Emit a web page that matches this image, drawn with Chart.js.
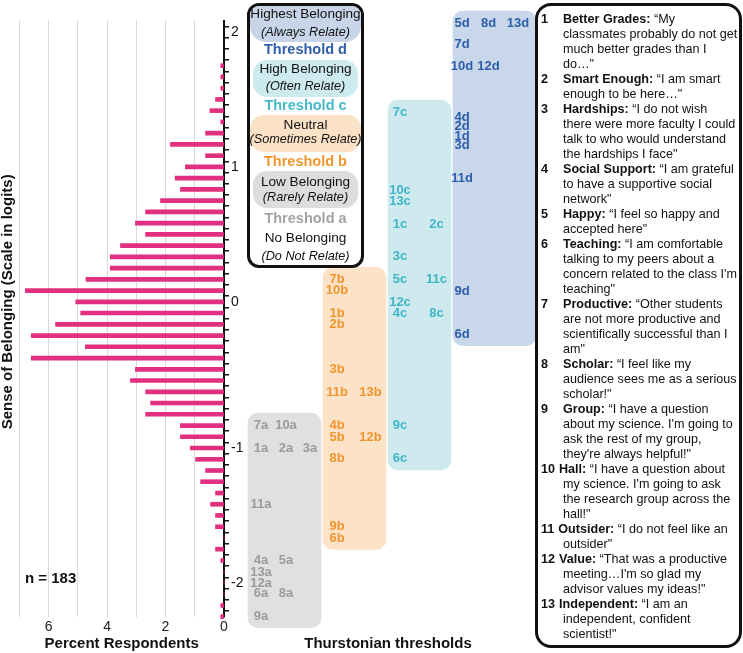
<!DOCTYPE html>
<html>
<head>
<meta charset="utf-8">
<title>Sense of Belonging – Wright map</title>
<script src="https://cdn.jsdelivr.net/npm/chart.js@4.4.1/dist/chart.umd.min.js"></script>
<style>
  html, body { margin:0; padding:0; background:#fff; }
  body { position:relative; width:743px; height:653px; overflow:hidden; font-family:"Liberation Sans", Arial, Helvetica, sans-serif; color:#111; }
  canvas { position:absolute; top:0; }
  #hist { left:0; }
  #thr { left:240px; }
  #nLabel { position:absolute; left:25px; top:569px; font-weight:bold; font-size:15px; line-height:18px; white-space:nowrap; }
  #legend { position:absolute; left:247px; top:3px; width:117px; height:265px; box-sizing:border-box; border:3px solid #111; border-radius:12px; background:#fff; z-index:5; }
  #legend .pill { position:absolute; border-radius:14px; }
  #legend .ln { position:absolute; left:-20px; width:151px; text-align:center; white-space:nowrap; font-size:13.6px; line-height:16px; color:#111; }
  #legend .itl { font-style:italic; font-size:12.7px; }
  #legend .th { font-weight:bold; font-size:14.5px; }
  #items { position:absolute; left:535px; top:3px; width:207px; height:645px; box-sizing:border-box; border:3px solid #111; border-radius:16px; background:#fff; padding:5.5px 0 0 3px; font-size:12.6px; z-index:5; color:#111; }
  #items .l { height:15px; line-height:15px; white-space:nowrap; padding-left:22px; overflow:visible; }
  #items .l.first { padding-left:0; }
  #items .n { display:inline-block; width:22px; font-weight:bold; }
  #items .n2 { display:inline-block; font-weight:bold; margin-right:4px; }
</style>
</head>
<body>
<canvas id="hist" width="248" height="653"></canvas>
<canvas id="thr" width="296" height="653"></canvas>
<div id="nLabel">n = 183</div>

<div id="legend">
  <div class="pill" style="top:0;left:0;right:0;height:36px;background:#c8d5e9;border-radius:9px 9px 16px 16px;"></div>
  <div class="pill" style="top:54px;left:3px;right:3px;height:37px;background:#cdeaef;"></div>
  <div class="pill" style="top:109px;left:0;right:0;height:37px;background:#fbe1c5;"></div>
  <div class="pill" style="top:165px;left:3px;right:3px;height:37px;background:#dddddd;"></div>
  <div class="ln" style="top:0px">Highest Belonging</div>
  <div class="ln itl" style="top:17.7px">(Always Relate)</div>
  <div class="ln th" style="top:35.3px;color:#2e5ea8">Threshold d</div>
  <div class="ln" style="top:55px">High Belonging</div>
  <div class="ln itl" style="top:72px">(Often Relate)</div>
  <div class="ln th" style="top:91px;color:#46b8c8">Threshold c</div>
  <div class="ln" style="top:111px">Neutral</div>
  <div class="ln itl" style="top:125.3px">(Sometimes Relate)</div>
  <div class="ln th" style="top:146.7px;color:#f0962e">Threshold b</div>
  <div class="ln" style="top:167.7px">Low Belonging</div>
  <div class="ln itl" style="top:183.3px">(Rarely Relate)</div>
  <div class="ln th" style="top:204.3px;color:#a3a3a3">Threshold a</div>
  <div class="ln" style="top:223.7px">No Belonging</div>
  <div class="ln itl" style="top:241.7px">(Do Not Relate)</div>
</div>

<div id="items"></div>

<script>
// ---------------- DATA ----------------
// Person measure bins (logits) and percent of respondents per bin
const binLogits = [1.750,1.667,1.583,1.500,1.417,1.333,1.250,1.167,1.083,1.000,
                   0.917,0.833,0.750,0.667,0.583,0.500,0.417,0.333,0.250,0.167,
                   0.083,0.000,-0.083,-0.167,-0.250,-0.333,-0.417,-0.500,-0.583,-0.667,
                   -0.750,-0.833,-0.917,-1.000,-1.083,-1.167,-1.250,-1.333,-1.417,-1.500,
                   -1.583,-1.667,-1.750,-1.833,-1.917,-2.000,-2.083,-2.167,-2.250,-2.333];
const pctRespondents = [0.11,0.11,0.11,0.29,0.48,0.11,0.63,1.83,0.63,1.32,
                        1.67,1.49,2.17,2.68,3.03,2.68,3.54,3.89,3.89,4.72,
                        6.79,5.07,4.90,5.76,6.59,4.74,6.59,3.03,3.20,2.68,
                        2.51,2.68,1.49,1.49,1.15,0.97,0.63,0.80,0.29,0.46,
                        0.29,0.29,0,0.29,0.11,0,0,0,0.11,0.11];

// x tick labels for 0..7 %
const xTickLabels = ['0','','2','','4','','6',''];
// y tick labels and where they sit on the logit scale
const yTickLabels = ['2','1','0','-1','-2'];
const yTickLabelAt = [2, 1, 0, -1.083, -2.083];

// Item numbers and Thurstonian thresholds (logits)
const items = [1,2,3,4,5,6,7,8,9,10,11,12,13];
const thresholdA = [-1.08,-1.08,-1.08,-1.91,-1.91,-2.16,-0.91,-2.16,-2.33,-0.91,-1.50,-2.08,-2.00];
const thresholdB = [-0.08,-0.16,-0.50,-0.91,-1.00,-1.75, 0.17,-1.16,-1.66, 0.09,-0.67,-1.00,-0.67];
const thresholdC = [ 0.58, 0.58, 0.34,-0.08, 0.17,-1.16, 1.41,-0.08,-0.91, 0.83, 0.17, 0.00, 0.75];
const thresholdD = [ 1.23, 1.30, 1.16, 1.37, 2.07,-0.24, 1.91, 2.07, 0.08, 1.75, 0.92, 1.75, 2.07];

// Item names and wording (as wrapped in the figure)
const itemNames = ['Better Grades:','Smart Enough:','Hardships:','Social Support:','Happy:','Teaching:',
                   'Productive:','Scholar:','Group:','Hall:','Outsider:','Value:','Independent:'];
const itemLines = [
  ['“My','classmates probably do not get','much better grades than I','do…"'],
  ['“I am smart','enough to be here…"'],
  ['“I do not wish','there were more faculty I could','talk to who would understand','the hardships I face"'],
  ['“I am grateful','to have a supportive social','network"'],
  ['“I feel so happy and','accepted here"'],
  ['“I am comfortable','talking to my peers about a','concern related to the class I\'m','teaching"'],
  ['“Other students','are not more productive and','scientifically successful than I','am"'],
  ['“I feel like my','audience sees me as a serious','scholar!"'],
  ['“I have a question','about my science. I\'m going to','ask the rest of my group,','they\'re always helpful!"'],
  ['“I have a question about','my science. I\'m going to ask','the research group across the','hall!"'],
  ['“I do not feel like an','outsider"'],
  ['“That was a productive','meeting…I\'m so glad my','advisor values my ideas!"'],
  ['“I am an','independent, confident','scientist!"']
];

const yAxisTitle = 'Sense of Belonging (Scale in logits)';
const xAxisTitleLeft = 'Percent Respondents';
const xAxisTitleRight = 'Thurstonian thresholds';

// ---------------- ITEM LIST (text) ----------------
(function(){
  const box = document.getElementById('items');
  items.forEach((it, i) => {
    const lines = itemLines[i];
    lines.forEach((txt, li) => {
      const d = document.createElement('div');
      d.className = 'l' + (li === 0 ? ' first' : '');
      if (li === 0) {
        const n = document.createElement('span');
        n.className = it < 10 ? 'n' : 'n2';
        n.textContent = String(it);
        const b = document.createElement('b');
        b.textContent = itemNames[i];
        d.appendChild(n); d.appendChild(b);
        d.appendChild(document.createTextNode(' ' + txt));
      } else {
        d.textContent = txt;
      }
      box.appendChild(d);
    });
  });
})();

// ---------------- LAYOUT / STYLE ----------------
const FONT = '"Liberation Sans", Arial, Helvetica, sans-serif';
Chart.defaults.font.family = FONT;
Chart.defaults.color = '#111';
const Y_MIN = -28/12, Y_MAX = 25/12;
const AREA_TOP = 20.7, XAXIS_H = 36.3;
const yTickValues = [];
for (let k = 25; k >= -28; k--) yTickValues.push(k/12);

const columnStyle = [
  { key:'a', values: thresholdA, box:'#e0e0e0', text:'#9b9b9b', center:284.5, width:73, slots:[261,286,310] },
  { key:'b', values: thresholdB, box:'#fce3c8', text:'#f0952e', center:354.5, width:63, slots:[337,370.5] },
  { key:'c', values: thresholdC, box:'#cfeaef', text:'#3fb6c6', center:419.5, width:63, slots:[400,436.5] },
  { key:'d', values: thresholdD, box:'#c9d7eb', text:'#2d5ea8', center:494.5, width:83, slots:[462,488.5,518] }
];
const BOX_PAD = 0.085;

// ---------------- HISTOGRAM ----------------
const yTitlePlugin = {
  id:'yTitle',
  afterDraw(chart){
    const ctx = chart.ctx;
    const y = chart.scales.y.getPixelForValue(0);
    ctx.save();
    ctx.translate(8, y);
    ctx.rotate(-Math.PI/2);
    ctx.font = 'bold 15px ' + FONT;
    ctx.fillStyle = '#111';
    ctx.textAlign = 'center';
    ctx.textBaseline = 'middle';
    ctx.fillText(yAxisTitle, 0, 0);
    ctx.restore();
  }
};

new Chart(document.getElementById('hist'), {
  type:'bar',
  data:{ datasets:[{
    data: binLogits.map((y,i)=>({x: pctRespondents[i], y})),
    backgroundColor:'#e0307f', borderWidth:0, barThickness:4, clip:false
  }]},
  options:{
    indexAxis:'y', responsive:false, animation:false,
    layout:{ padding:{ left:19.3, top:AREA_TOP, right:0, bottom:0 } },
    plugins:{ legend:{display:false}, tooltip:{enabled:false} },
    scales:{
      x:{ type:'linear', reverse:true, min:0, max:7, offset:false,
          grid:{ color:'#d9d9d9', lineWidth:1, drawTicks:false },
          border:{ display:false },
          ticks:{ stepSize:1, autoSkip:false, maxRotation:0, padding:2, color:'#222', font:{size:14},
                  callback:(v)=> xTickLabels[Math.round(v)] ?? '' },
          title:{ display:true, text:xAxisTitleLeft, color:'#111', font:{size:15, weight:'bold'}, padding:{top:0, bottom:0} },
          afterFit:(s)=>{ s.height = XAXIS_H; } },
      y:{ type:'linear', position:'right', min:Y_MIN, max:Y_MAX, offset:false,
          afterBuildTicks:(s)=>{ s.ticks = yTickValues.map(v=>({value:v})); },
          ticks:{ autoSkip:false, padding:2, color:'#111', font:{size:14},
                  callback:(v)=>{ const i = yTickLabelAt.findIndex(p=>Math.abs(p-v)<0.01); return i>=0 ? yTickLabels[i] : ''; } },
          grid:{ drawOnChartArea:false, drawTicks:true, tickLength:5, color:'#111', lineWidth:1.5 },
          border:{ display:true, color:'#111', width:2 },
          afterFit:(s)=>{ s.width = 24; } }
    }
  },
  plugins:[yTitlePlugin]
});

// ---------------- THRESHOLDS ----------------
function slotIndex(values, i){
  let n = 0;
  for (let j = 0; j < i; j++) if (values[j] === values[i]) n++;
  return n;
}

const boxDatasets = columnStyle.map(c => ({
  type:'bar', stack:'boxes', grouped:true,
  data:[{ x:c.center, y:[Math.min(...c.values)-BOX_PAD, Math.max(...c.values)+BOX_PAD] }],
  backgroundColor:c.box, borderWidth:0, borderRadius:10, borderSkipped:false,
  barThickness:c.width, clip:false, order:2
}));
const labelDatasets = columnStyle.map(c => ({
  type:'scatter', labelColor:c.text,
  data: items.map((it,i)=>({ x:c.slots[slotIndex(c.values,i)], y:c.values[i], label: it + c.key })),
  pointRadius:0, pointHoverRadius:0, showLine:false, clip:false, order:1
}));

const labelPlugin = {
  id:'thrLabels',
  afterDatasetsDraw(chart){
    const ctx = chart.ctx;
    chart.data.datasets.forEach((ds, di)=>{
      if (ds.type !== 'scatter') return;
      const meta = chart.getDatasetMeta(di);
      ctx.save();
      ctx.font = 'bold 13px ' + FONT;
      ctx.fillStyle = ds.labelColor;
      ctx.textAlign = 'center';
      ctx.textBaseline = 'middle';
      meta.data.forEach((pt, i)=>{ ctx.fillText(ds.data[i].label, pt.x, pt.y + 0.5); });
      ctx.restore();
    });
  }
};

new Chart(document.getElementById('thr'), {
  type:'bar',
  data:{ datasets:[...boxDatasets, ...labelDatasets] },
  options:{
    responsive:false, animation:false,
    layout:{ padding:{ top:AREA_TOP, left:0, right:0, bottom:0 } },
    plugins:{ legend:{display:false}, tooltip:{enabled:false} },
    scales:{
      x:{ type:'linear', min:240, max:536, offset:false,
          grid:{display:false}, border:{display:false}, ticks:{display:false},
          title:{ display:true, text:xAxisTitleRight, color:'#111', font:{size:15, weight:'bold'}, padding:{top:0, bottom:0} },
          afterFit:(s)=>{ s.height = XAXIS_H; } },
      y:{ type:'linear', display:false, min:Y_MIN, max:Y_MAX, stacked:false }
    }
  },
  plugins:[labelPlugin]
});
</script>
</body>
</html>
